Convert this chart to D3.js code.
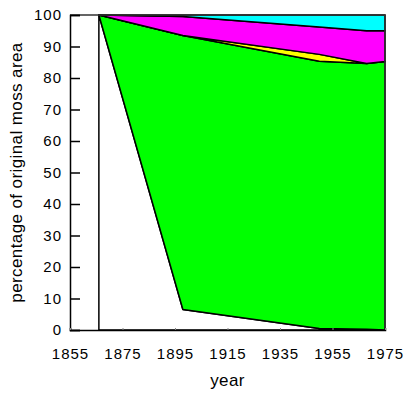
<!DOCTYPE html>
<html>
<head>
<meta charset="utf-8">
<script src="https://cdn.jsdelivr.net/npm/d3@7"></script>
<style>
  body { margin: 0; background: #fff; }
  text { font-family: "Liberation Sans", Arial, sans-serif; fill: #000; }
</style>
</head>
<body>
<svg width="404" height="394"></svg>
<script>
const width = 404, height = 394;
const margin = {top: 15, right: 19, bottom: 64, left: 70};

// survey years and share of the original moss area per category (%)
const years = [1866, 1898, 1950, 1968, 1975];
const lost = [100, 6.5, 0.5, 0.2, 0];
const green = [0, 87, 84.8, 84.4, 85.2];
const yellow = [0, 0, 2.2, 0, 0];
const magenta = [0, 6, 8.7, 10.4, 9.8];
const cyan = [0, 0.5, 3.8, 5, 5];

const seriesKeys = ["lost", "green", "yellow", "magenta", "cyan"];
const seriesColors = ["#ffffff", "#00ff00", "#ffff00", "#ff00ff", "#00ffff"];
const xTicks = [1855, 1875, 1895, 1915, 1935, 1955, 1975];
const yTicks = d3.range(0, 101, 10);

const rows = years.map((y, i) => ({
  year: y, lost: lost[i], green: green[i], yellow: yellow[i],
  magenta: magenta[i], cyan: cyan[i]
}));

const svg = d3.select("svg");

const x = d3.scaleLinear()
  .domain([1855, 1975])
  .range([margin.left, width - margin.right]);

const y = d3.scaleLinear()
  .domain([0, 100])
  .range([height - margin.bottom, margin.top]);

const stack = d3.stack().keys(seriesKeys);
const layers = stack(rows);

const area = d3.area()
  .x(d => x(d.data.year))
  .y0(d => y(d[0]))
  .y1(d => y(d[1]));

svg.append("g")
  .selectAll("path")
  .data(layers)
  .join("path")
  .attr("d", area)
  .attr("fill", (d, i) => seriesColors[i])
  .attr("stroke", "#000")
  .attr("stroke-width", 1.5)
  .attr("stroke-linejoin", "round");

// frame top and right
svg.append("path")
  .attr("d", `M${x(1855)},${y(100)}H${x(1975)}V${y(0)}`)
  .attr("fill", "none")
  .attr("stroke", "#333")
  .attr("stroke-width", 1.5);

// y axis, ticks pointing inward
const yAxis = svg.append("g")
  .attr("transform", `translate(${margin.left},0)`)
  .call(d3.axisRight(y).tickValues(yTicks).tickSize(10).tickFormat(""));
yAxis.select(".domain").attr("stroke-width", 1.5);
yAxis.selectAll(".tick line").attr("stroke-width", 1.5);

svg.append("g")
  .selectAll("text")
  .data(yTicks)
  .join("text")
  .attr("x", margin.left - 8)
  .attr("y", d => y(d))
  .attr("dy", "0.36em")
  .attr("text-anchor", "end")
  .attr("font-size", 15)
  .attr("letter-spacing", 1)
  .text(d => d);

// x axis, tiny inward ticks
const xAxis = svg.append("g")
  .attr("transform", `translate(0,${height - margin.bottom})`)
  .call(d3.axisTop(x).tickValues(xTicks).tickSize(2).tickFormat(""));
xAxis.select(".domain").attr("stroke-width", 1.5);
xAxis.selectAll(".tick line").attr("stroke", "#888");

svg.append("g")
  .selectAll("text")
  .data(xTicks)
  .join("text")
  .attr("x", d => x(d) + 0.5)
  .attr("y", height - margin.bottom + 29)
  .attr("text-anchor", "middle")
  .attr("font-size", 15)
  .attr("letter-spacing", 1)
  .text(d => d);

// axis titles
svg.append("text")
  .attr("x", (margin.left + width - margin.right) / 2)
  .attr("y", 386)
  .attr("text-anchor", "middle")
  .attr("font-size", 17)
  .attr("letter-spacing", 0.4)
  .text("year");

svg.append("text")
  .attr("transform", `translate(22,${(margin.top + height - margin.bottom) / 2}) rotate(-90)`)
  .attr("text-anchor", "middle")
  .attr("font-size", 17)
  .attr("letter-spacing", 0.4)
  .text("percentage of original moss area");
</script>
</body>
</html>
